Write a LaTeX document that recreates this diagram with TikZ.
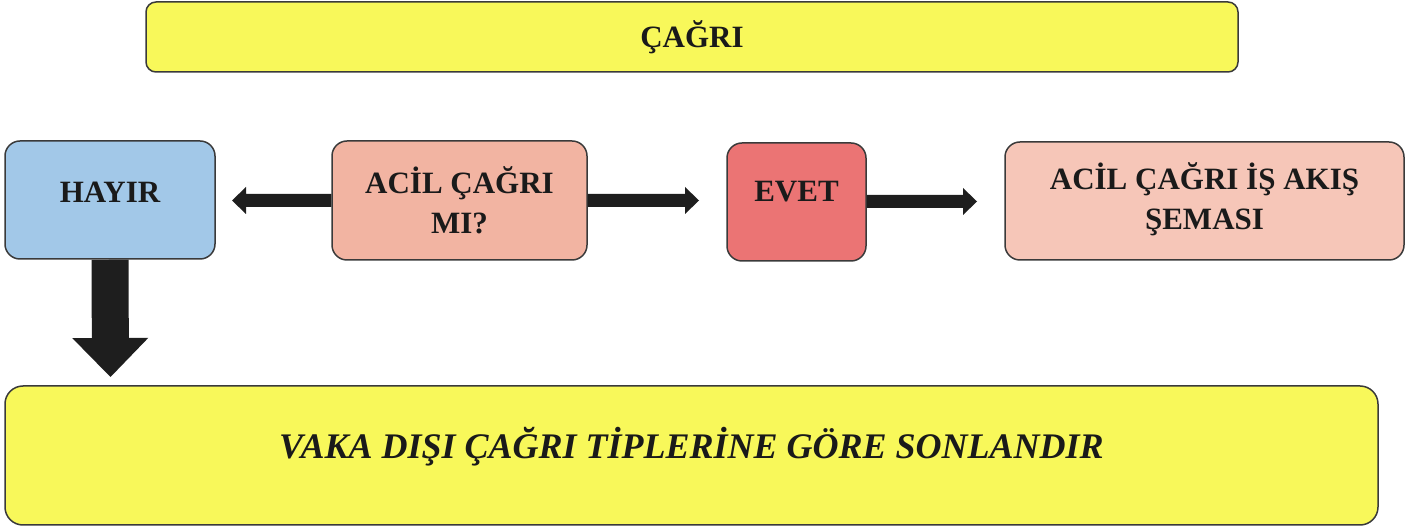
\documentclass[tikz,border=0pt]{standalone}
\usepackage{fontspec}
\setmainfont{Liberation Serif}
\usetikzlibrary{calc}
\definecolor{cyellow}{HTML}{F8F85A}
\definecolor{cblue}{HTML}{A2C8E8}
\definecolor{csalmon}{HTML}{F2B4A2}
\definecolor{cred}{HTML}{EB7474}
\definecolor{cpeach}{HTML}{F6C6B8}
\definecolor{cborder}{HTML}{3A3A3A}
\definecolor{carrow}{HTML}{1E1E1E}
\definecolor{ctext}{HTML}{1A1A1A}
% block arrow: #1 start, #2 tip, #3 half shaft, #4 half head, #5 head length
\newcommand\blockarrow[5]{%
  \fill[carrow]
    ($(#1)!#3!90:(#2)$) --
    ($(#2)!#5!(#1)!#3!-90:(#1)$) --
    ($(#2)!#5!(#1)!#4!-90:(#1)$) --
    (#2) --
    ($(#2)!#5!(#1)!#4!90:(#1)$) --
    ($(#2)!#5!(#1)!#3!90:(#1)$) --
    ($(#1)!#3!-90:(#2)$) -- cycle;}
\newcommand\up[2]{\raisebox{#1}[\height][\depth]{#2}}
\tikzset{
  box/.style={draw=cborder, line width=0.75pt, rounded corners=7.5pt,
    inner sep=0pt, align=center, text=ctext,
    font=\fontsize{15.5pt}{20pt}\selectfont\bfseries},
}
\begin{document}
\begin{tikzpicture}[x=0.5pt, y=-0.5pt]
\useasboundingbox (0,0) rectangle (1413,528);
\node[box, fill=cyellow, rounded corners=5pt, minimum width=546pt, minimum height=35pt] (top) at (692,37) {ÇAĞRI};
\node[box, fill=cblue, minimum width=105pt, minimum height=59pt] (hayir) at (110,200) {\up{4pt}{HAYIR}};
\node[box, fill=csalmon, minimum width=127.5pt, minimum height=59.5pt] (q) at (459.5,200.5) {ACİL ÇAĞRI\\MI?};
\node[box, fill=cred, minimum width=69.5pt, minimum height=59pt] (evet) at (796.5,202) {\up{5pt}{EVET}};
\node[box, fill=cpeach, minimum width=199.5pt, minimum height=59pt] (acil) at (1204.5,201) {\up{1pt}{ACİL ÇAĞRI İŞ AKIŞ}\\\up{1pt}{ŞEMASI}};
\node[box, fill=cyellow, rounded corners=9pt, minimum width=686.5pt, minimum height=69.5pt,
  font=\fontsize{18pt}{22pt}\selectfont\bfseries\itshape] (end) at (691.5,455.5) {\up{4.5pt}{VAKA DIŞI ÇAĞRI TİPLERİNE GÖRE SONLANDIR}};
\coordinate (tipL) at (232,200.5);
\coordinate (tipR) at (699,200.5);
\coordinate (tipE) at (977,201.5);
\coordinate (tipD) at (110.5,377);
\coordinate (qR) at (q.east);
\coordinate (evR) at (evet.east);
\blockarrow{q.west}{tipL}{3.25pt}{6.75pt}{7pt}
\blockarrow{qR}{tipR}{3.25pt}{6.75pt}{7pt}
\blockarrow{$(evR)+(0,-0.5)$}{tipE}{3.25pt}{6.75pt}{7pt}
\blockarrow{hayir.south}{tipD}{9.25pt}{19pt}{19.5pt}
\end{tikzpicture}
\end{document}
